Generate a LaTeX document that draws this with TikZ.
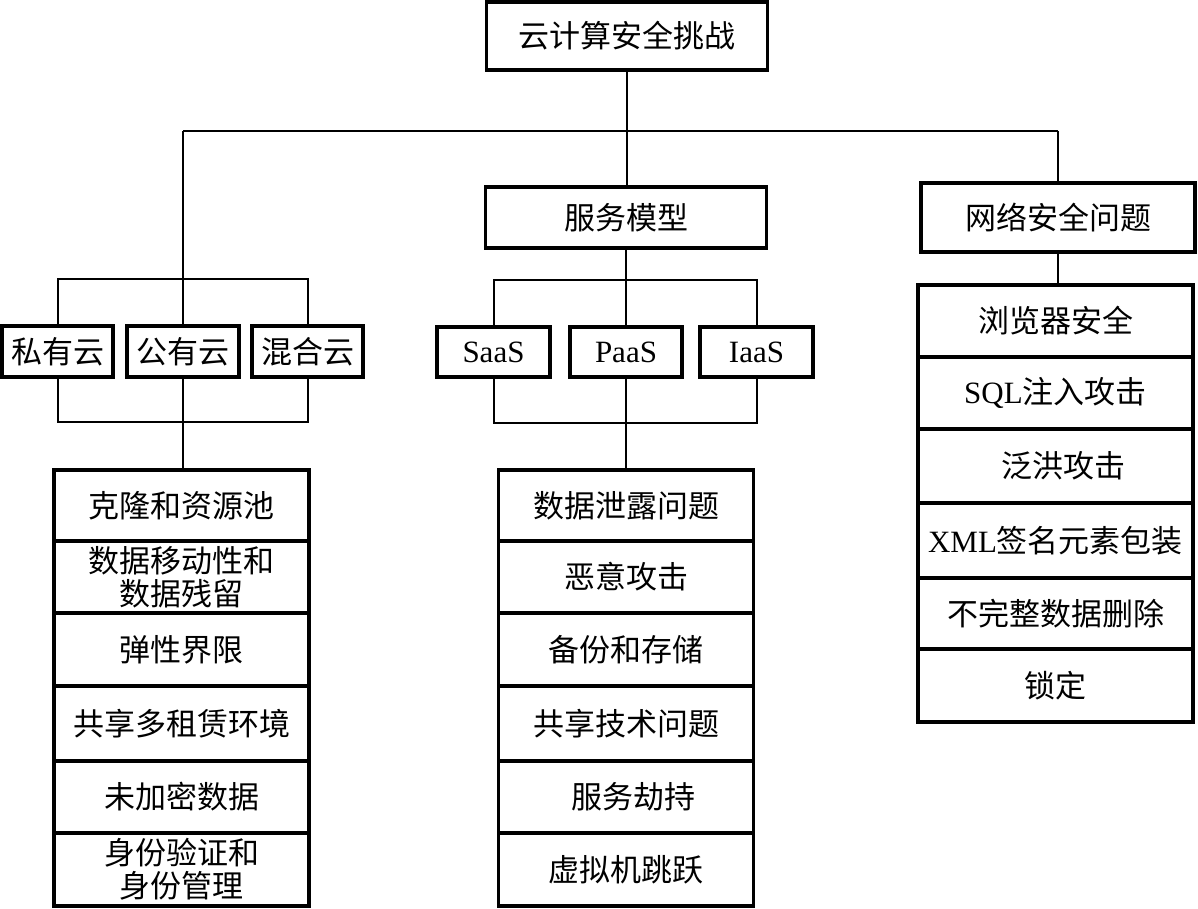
\documentclass[tikz,border=0pt]{standalone}
\usepackage{fontspec}
\setmainfont{Liberation Serif}
\newfontfamily\cjk{Noto Sans CJK SC}
\newfontfamily\latf{Liberation Serif}
\newcommand\lat[1]{{\latf #1}}
\begin{document}
\begin{tikzpicture}[x=1pt,y=-1pt,
  box/.style={draw, line width=3.5pt, inner sep=0pt, outer sep=0pt, align=center,
              font=\cjk\fontsize{31}{33}\selectfont},
  link/.style={line width=2pt}]
\useasboundingbox (0,0) rectangle (1198,909);
\fill[white] (0,0) rectangle (1198,909);

% top level
\node[box, minimum width=281pt, minimum height=68pt] (top) at (627,36) {云计算安全挑战};
\node[box, minimum width=281pt, minimum height=61pt] (fw) at (626,217.5) {服务模型};
\node[box, minimum width=274pt, minimum height=69pt] (net) at (1058,217.5) {网络安全问题};

% deployment models
\node[box, minimum width=111pt, minimum height=51pt] (pri) at (57.5,351.5) {私有云};
\node[box, minimum width=112pt, minimum height=51pt] (pub) at (183,351.5) {公有云};
\node[box, minimum width=111pt, minimum height=51pt] (hyb) at (307.5,351.5) {混合云};

% service models
\node[box, minimum width=113pt, minimum height=50pt] (saas) at (493.5,352) {\lat{SaaS}};
\node[box, minimum width=112pt, minimum height=50pt] (paas) at (626,352) {\lat{PaaS}};
\node[box, minimum width=113pt, minimum height=50pt] (iaas) at (756.5,352) {\lat{IaaS}};

% left list
\begin{scope}[every node/.append style={minimum width=255pt}]
\node[box, minimum height=71pt] (L1) at (181.5,505.5) {克隆和资源池};
\node[box, minimum height=72pt] (L2) at (181.5,577) {数据移动性和\\数据残留};
\node[box, minimum height=73pt] (L3) at (181.5,649.5) {弹性界限};
\node[box, minimum height=75pt] (L4) at (181.5,723.5) {共享多租赁环境};
\node[box, minimum height=72pt] (L5) at (181.5,797) {未加密数据};
\node[box, minimum height=73pt] (L6) at (181.5,869.5) {身份验证和\\身份管理};
\end{scope}

% middle list
\begin{scope}[every node/.append style={minimum width=255pt}]
\node[box, minimum height=71pt] (M1) at (626,505.5) {数据泄露问题};
\node[box, minimum height=72pt] (M2) at (626,577) {恶意攻击};
\node[box, minimum height=73pt] (M3) at (626,649.5) {备份和存储};
\node[box, minimum height=75pt] (M4) at (626,723.5) {共享技术问题};
\node[box, minimum height=72pt] (M5) at (626,797) {\hspace*{14pt}服务劫持};
\node[box, minimum height=73pt] (M6) at (626,869.5) {虚拟机跳跃};
\end{scope}

% right list
\begin{scope}[every node/.append style={minimum width=275pt}]
\node[box, minimum height=72pt] (R1) at (1055.5,321) {浏览器安全};
\node[box, minimum height=72pt] (R2) at (1055.5,393) {\lat{SQL}注入攻击};
\node[box, minimum height=74pt] (R3) at (1055.5,466) {\hspace*{16pt}泛洪攻击};
\node[box, minimum height=75pt] (R4) at (1055.5,540.5) {\lat{XML}签名元素包装};
\node[box, minimum height=71pt] (R5) at (1055.5,613.5) {不完整数据删除};
\node[box, minimum height=73pt] (R6) at (1055.5,685.5) {锁定};
\end{scope}

% connectors
\coordinate (hL) at (183,131);
\coordinate (hR) at (1058,131);
\coordinate (bt1) at (183,279);
\coordinate (bb1) at (183,422);
\coordinate (bt2) at (626,280);
\coordinate (bb2) at (626,423);

\draw[link] (top.south) -- (top.south |- fw.north);
\draw[link] (hL) -- (hR);
\draw[link] (hL) -- (pub.north);
\draw[link] (hR) -- (net.north);
\draw[link] (pri.north) |- (bt1) -| (hyb.north);
\draw[link] (pri.south) |- (bb1) -| (hyb.south);
\draw[link] (pub.south) -- (pub.south |- L1.north);

\draw[link] (fw.south) -- (paas.north);
\draw[link] (saas.north) |- (bt2) -| (iaas.north);
\draw[link] (saas.south) |- (bb2) -| (iaas.south);
\draw[link] (paas.south) -- (M1.north);

\draw[link] (net.south) -- (net.south |- R1.north);
\end{tikzpicture}
\end{document}
